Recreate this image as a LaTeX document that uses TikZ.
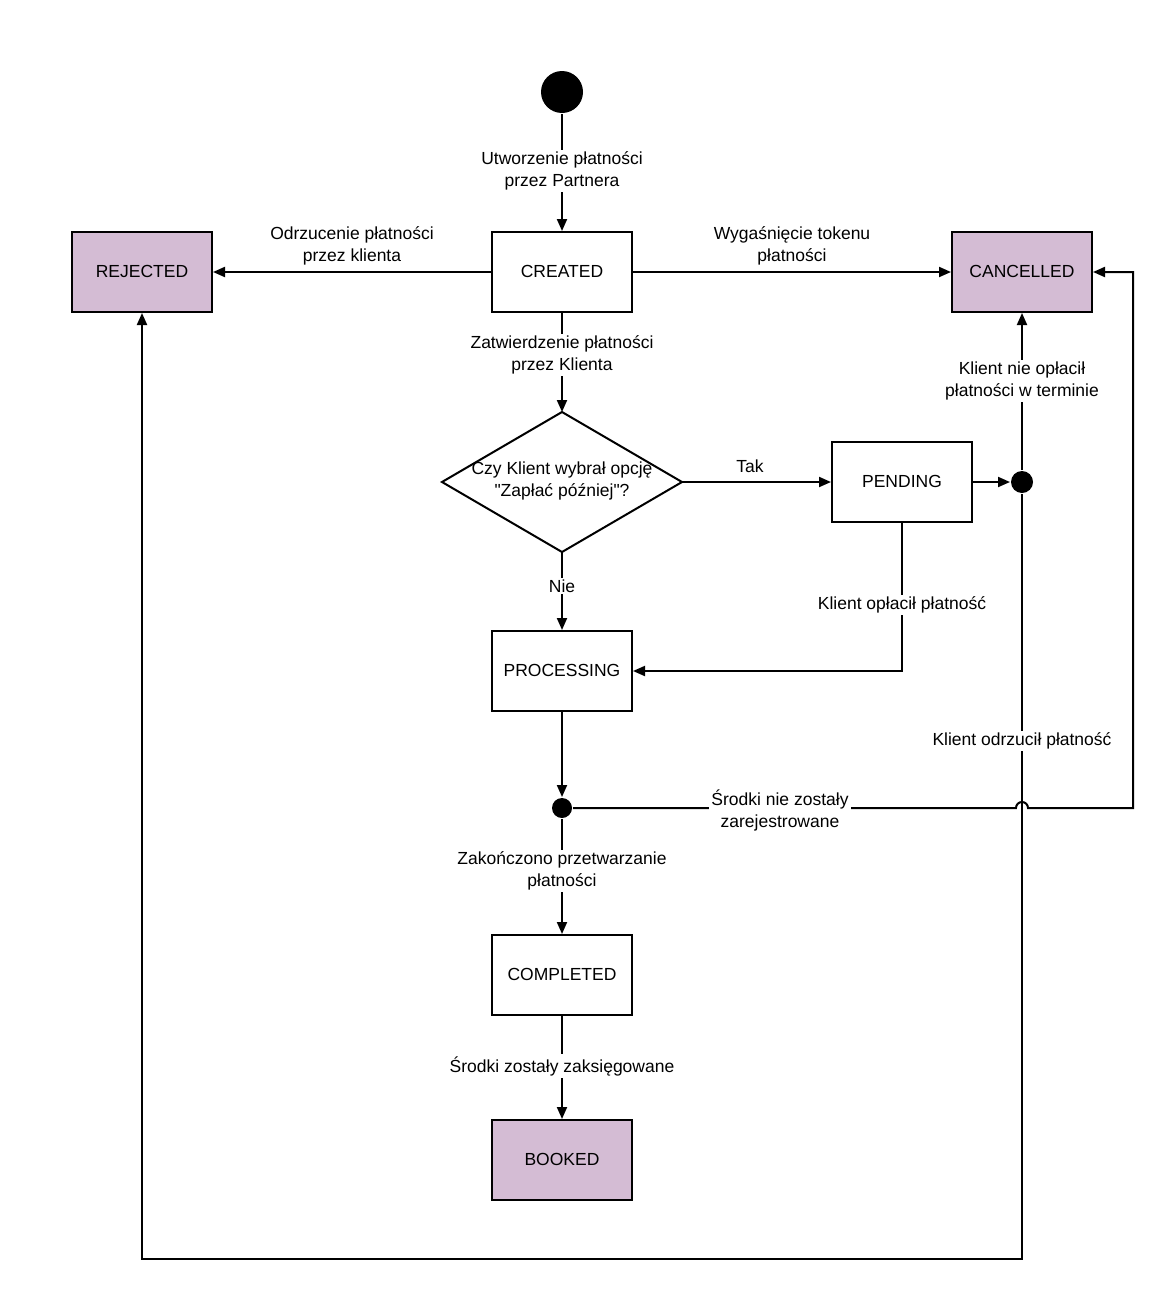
\documentclass[tikz,border=0pt]{standalone}
\usepackage{fontspec}
\setmainfont{Liberation Sans}[Ligatures=TeXOff]
\usetikzlibrary{arrows.meta}
\definecolor{lilac}{HTML}{D4BCD4}
\begin{document}
\begin{tikzpicture}[x=1pt,y=-1pt,line width=2pt,
  >={Triangle[length=12pt,width=10pt]},
  txt/.style={font=\fontsize{17.5}{22}\selectfont},
  state/.style={txt,draw,minimum width=140pt,minimum height=80pt,inner sep=0pt},
  final/.style={state,fill=lilac},
  lbl/.style={txt,fill=white,align=center,inner sep=2pt},
  plainlbl/.style={txt,align=center,inner sep=2pt},
  dot/.style={circle,fill=black,inner sep=0pt,minimum size=#1},
  dot/.default=21pt]
\useasboundingbox (0,0) rectangle (1174,1301);
% nodes
\node[dot=42pt] (start) at (562,92) {};
\node[state] (created) at (562,272) {\raisebox{2pt}{CREATED}};
\node[final] (rej) at (142,272) {\raisebox{2pt}{REJECTED}};
\node[final] (canc) at (1022,272) {\raisebox{2pt}{CANCELLED}};
\coordinate (dT) at (562,412);
\coordinate (dL) at (442,482);
\coordinate (dR) at (682,482);
\coordinate (dB) at (562,552);
\draw (dL) -- (dT) -- (dR) -- (dB) -- cycle;
\node[txt,align=center,inner sep=0pt] (dec) at (562,481) {Czy Klient wybrał opcję\\"Zapłać później"?};
\node[state] (pend) at (902,482) {\raisebox{2pt}{PENDING}};
\node[dot=22pt] (dot1) at (1022,482) {};
\node[state] (proc) at (562,671) {\raisebox{2pt}{PROCESSING}};
\node[dot=20pt] (dot2) at (562,808) {};
\node[state] (comp) at (562,975) {\raisebox{2pt}{COMPLETED}};
\node[final] (book) at (562,1160) {\raisebox{2pt}{BOOKED}};
\coordinate (c1) at (1022,1259);
\coordinate (c2) at (142,1259);
\coordinate (j1) at (1016,808);
\coordinate (k1) at (1133,808);
\coordinate (k2) at (1133,272);
% connectors
\draw[->] (start) -- (created);
\draw[->] (created) -- (rej);
\draw[->] (created) -- (canc);
\draw[->] (created) -- (dT);
\draw[->] (dR) -- (pend);
\draw[->] (dB) -- (proc);
\draw[->] (pend) -- (dot1);
\draw[->] (dot1) -- (canc);
\draw[->] (pend.south) -- (pend.south |- proc.east) -- (proc.east);
\draw[->] (proc) -- (dot2);
\draw[->] (dot1) -- (c1) -- (c2) -- (rej.south);
\draw[->] (dot2) -- (j1) arc[start angle=180,end angle=0,radius=6pt] -- (k1) -- (k2) -- (canc.east);
\draw[->] (dot2) -- (comp);
\draw[->] (comp) -- (book);
% labels
\node[lbl] (l1) at (562,171) {Utworzenie płatności\\przez Partnera};
\node[plainlbl] (l2) at (352,246) {Odrzucenie płatności\\przez klienta};
\node[plainlbl] (l3) at (792,246) {Wygaśnięcie tokenu\\płatności};
\node[lbl] (l4) at (562,355) {Zatwierdzenie płatności\\przez Klienta};
\node[plainlbl] (l5) at (750,466) {Tak};
\node[lbl] (l6) at (562,586) {Nie};
\node[lbl] (l7) at (1022,381) {Klient nie opłacił\\płatności w terminie};
\node[lbl] (l8) at (902,605) {Klient opłacił płatność};
\node[lbl] (l9) at (1022,741) {Klient odrzucił płatność};
\node[lbl] (l10) at (780,810) {Środki nie zostały\\zarejestrowane};
\node[lbl] (l11) at (562,871) {Zakończono przetwarzanie\\płatności};
\node[lbl] (l12) at (562,1066) {Środki zostały zaksięgowane};
\end{tikzpicture}
\end{document}
